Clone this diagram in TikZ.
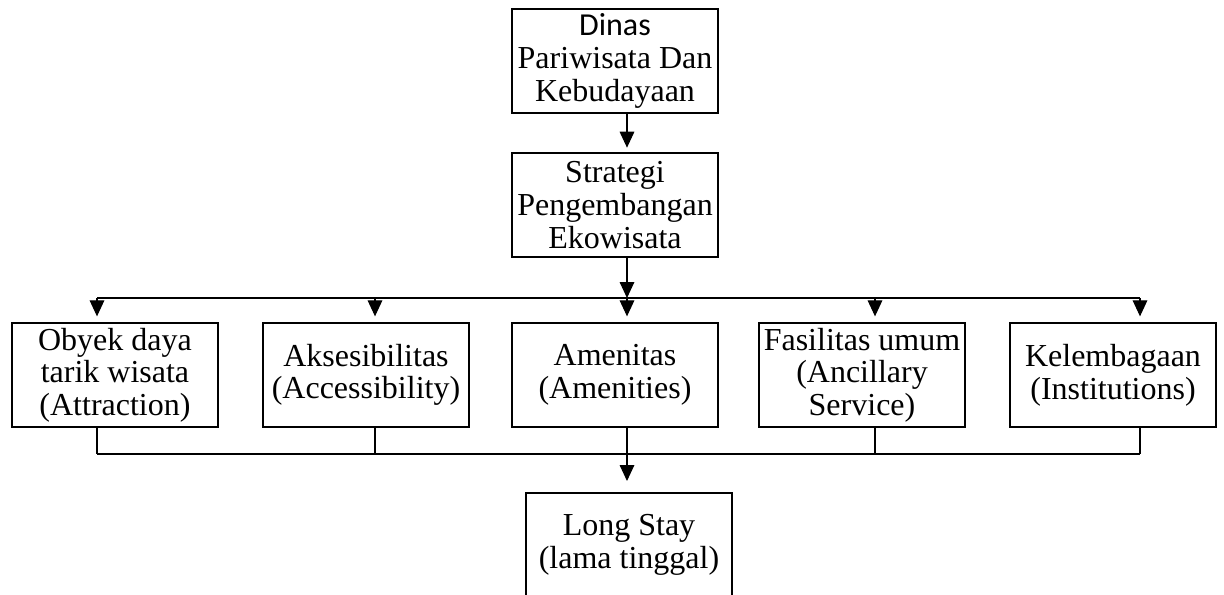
\documentclass[tikz,border=0pt]{standalone}
\usepackage{fontspec}
\setmainfont{Liberation Serif}
\newfontfamily\dinasfont{Carlito}
\usetikzlibrary{arrows.meta, positioning, calc}

\begin{document}
\begin{tikzpicture}[x=0.75pt, y=-0.75pt,
  every node/.style={font=\fontsize{24}{24.5}\selectfont},
  box/.style={draw, line width=2pt, minimum width=154.5pt, minimum height=78pt,
              align=center, inner sep=1pt},
  link/.style={line width=0.8pt},
  drop/.style={link, -{Triangle[length=12pt, width=11pt]}}]
  \useasboundingbox (0,0) rectangle (1224,594);

  % top chain
  \node[box] (dinas) at (615,61) {{\dinasfont Dinas}\\Pariwisata Dan\\Kebudayaan};
  \node[box] (strategi) at (615,205) {Strategi\\Pengembangan\\Ekowisata};

  % the five components
  \node[box] (obyek) at (115,375) {Obyek daya\\tarik wisata\\(Attraction)};
  \node[box] (akses) at (366,375) {Aksesibilitas\\(Accessibility)};
  \node[box] (amenitas) at (615,375) {Amenitas\\(Amenities)};
  \node[box] (fasilitas) at (862,375) {Fasilitas umum\\(Ancillary\\Service)};
  \node[box] (lembaga) at (1113,375) {Kelembagaan\\(Institutions)};

  % result
  \node[box] (longstay) at (629,545) {Long Stay\\(lama tinggal)};

  % connectors
  \coordinate (split) at (627,298);
  \draw[drop, shorten >=3pt] ([xshift=9pt]dinas.south) -- ([xshift=9pt]strategi.north);
  \draw[drop] ([xshift=9pt]strategi.south) -- (split);
  \foreach \n/\x in {obyek/97, akses/375, amenitas/627, fasilitas/875, lembaga/1140} {
    \coordinate (top-\n) at (\x,298);
    \coordinate (bot-\n) at (\x,454);
    \draw[drop, shorten >=4pt] (top-\n) -- (top-\n |- \n.north);
    \draw[link] (\n.south -| bot-\n) -- (bot-\n);
  }
  \draw[link] (top-obyek) -- (top-lembaga);
  \draw[link] (bot-obyek) -- (bot-lembaga);
  \draw[drop, shorten >=8pt] (bot-amenitas) -- (bot-amenitas |- longstay.north);
\end{tikzpicture}
\end{document}
